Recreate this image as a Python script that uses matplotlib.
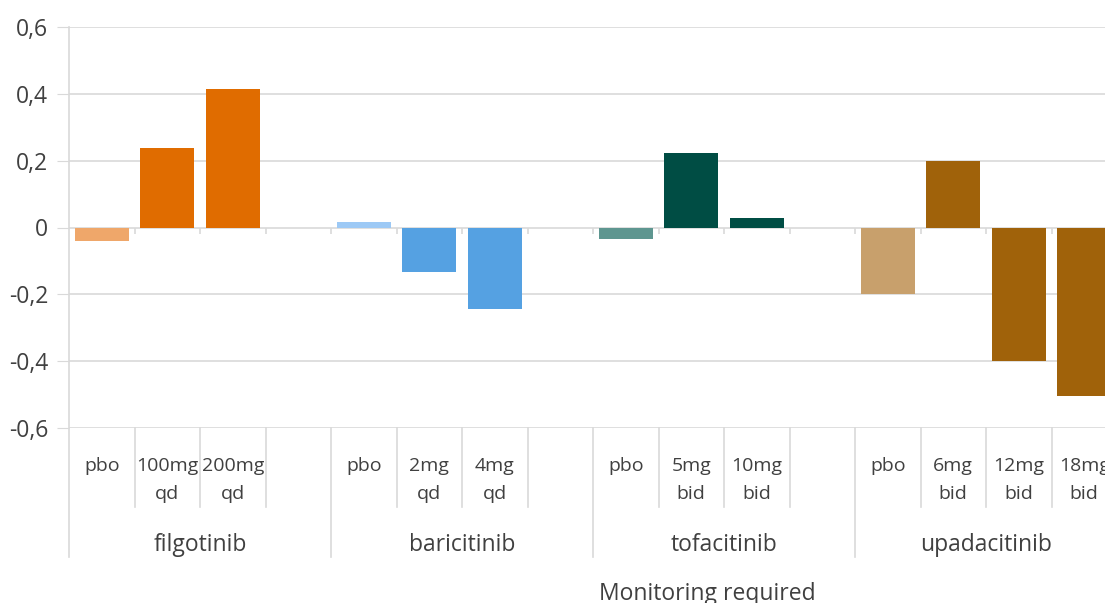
import matplotlib.pyplot as plt
from matplotlib.transforms import blended_transform_factory

plt.rcParams['font.family'] = ['Open Sans', 'DejaVu Sans']

# data
drugs = ['filgotinib', 'baricitinib', 'tofacitinib', 'upadacitinib']
doses = [['pbo', '100mg\nqd', '200mg\nqd'],
         ['pbo', '2mg\nqd', '4mg\nqd'],
         ['pbo', '5mg\nbid', '10mg\nbid'],
         ['pbo', '6mg\nbid', '12mg\nbid', '18mg\nbid']]
values = [[-0.041, 0.238, 0.413],
          [0.017, -0.134, -0.245],
          [-0.033, 0.223, 0.027],
          [-0.198, 0.2, -0.40, -0.503]]
pbo_colors = ['#EFA76A', '#9DC9F5', '#5E9690', '#C8A06C']
dose_colors = ['#E06C00', '#55A1E2', '#004D44', '#A0620A']
xlabel = 'Monitoring required'

grid_c = '#D9D9D9'
text_c = '#404040'
slots = 4

W, H = 1105, 603
fig = plt.figure(figsize=(W / 100, H / 100), dpi=100)
ax = fig.add_axes([69 / W, (H - 428) / H, (W - 69) / W, 401 / H])

for g, vals in enumerate(values):
    xs = [g * slots + i for i in range(len(vals))]
    cols = [pbo_colors[g]] + [dose_colors[g]] * (len(vals) - 1)
    ax.bar(xs, vals, width=0.82, color=cols, zorder=3)

right = -0.5 + (W - 69) / 65.5
ax.set_xlim(-0.5, right)
ax.set_ylim(-0.6, 0.6)
yt = [-0.6, -0.4, -0.2, 0, 0.2, 0.4, 0.6]
ax.set_yticks(yt)
ax.set_yticklabels([('%g' % v).replace('.', ',') for v in yt], fontsize=16.5, color=text_c)
ax.set_xticks([])
ax.tick_params(axis='y', length=9, color=grid_c, pad=6)
ax.yaxis.grid(True, color=grid_c, linewidth=1.2, zorder=0)
for s in ['top', 'right', 'bottom', 'left']:
    ax.spines[s].set_visible(False)

# small ticks on the zero line at category boundaries
bounds = [k + 0.5 for k in range(15)]
ax.vlines(bounds, -0.019, 0, color=grid_c, linewidth=1.2, zorder=2)

# category labels below the plot
px = 1 / 401  # one pixel in axes units
tr = blended_transform_factory(ax.transData, ax.transAxes)
ax.plot([-0.5, -0.5], [1, -(557 - 428) * px], color=grid_c, lw=1.2,
        transform=tr, clip_on=False, zorder=1)
for k in range(1, 16):
    b = k - 0.5
    low = 557 if k % slots == 0 else 507
    ax.plot([b, b], [0, -(low - 428) * px], color=grid_c, lw=1.2,
            transform=tr, clip_on=False)

line_y = [466, 494]
for g, labs in enumerate(doses):
    for i, lab in enumerate(labs):
        for j, part in enumerate(lab.split('\n')):
            ax.text(g * slots + i, -(line_y[j] - 428) * px, part, transform=tr,
                    ha='center', va='center', fontsize=14, color=text_c,
                    clip_on=False)
    ax.text(g * slots + 1.5, -(545 - 428) * px, drugs[g], transform=tr,
            ha='center', va='center', fontsize=16.5, color=text_c)

fig.text(707 / W, 1 - 594 / H, xlabel, ha='center', va='center',
         fontsize=16.5, color=text_c)

fig.savefig('out.png', dpi=100, facecolor='white')
